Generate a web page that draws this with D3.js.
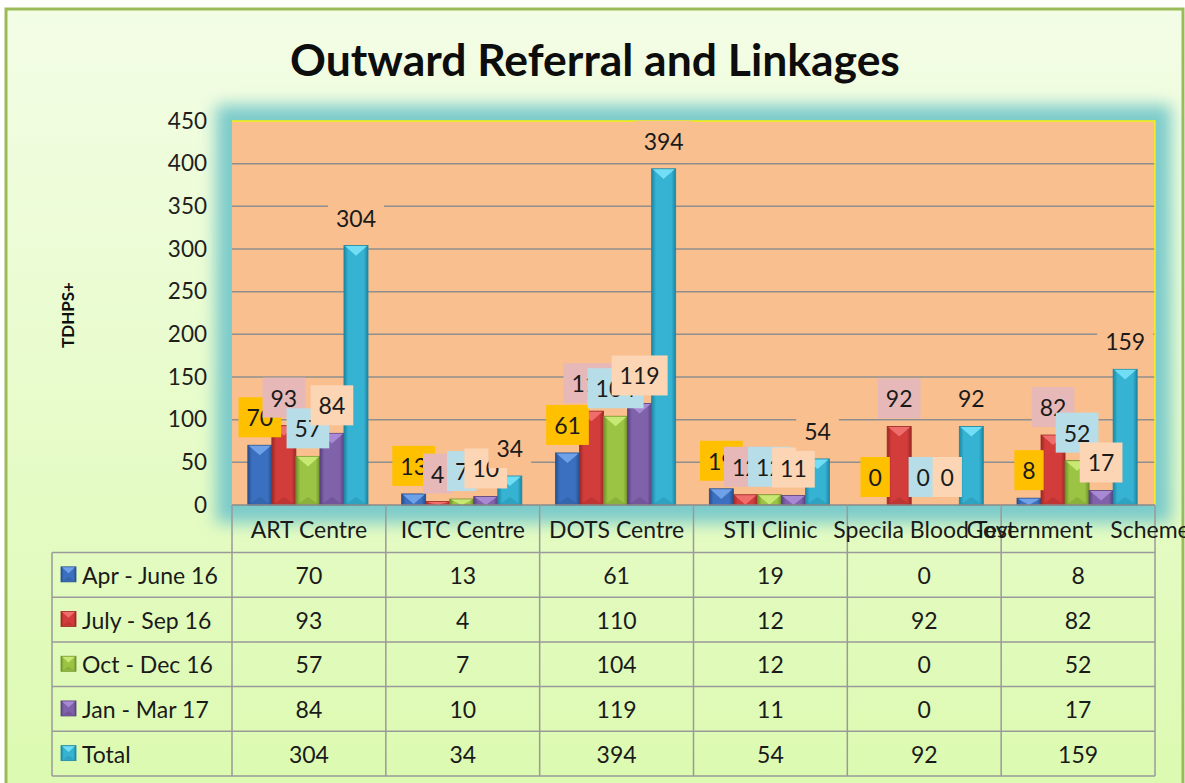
<!DOCTYPE html>
<html>
<head>
<meta charset="utf-8">
<script src="https://cdn.jsdelivr.net/npm/d3@7"></script>
<style>
  body { margin: 0; background: #fff; }
  svg { display: block; font-family: Lato, "Open Sans", sans-serif; }
</style>
</head>
<body>
<div id="chart"></div>
<script>
// chart data
const categories = ['ART Centre', 'ICTC Centre', 'DOTS Centre', 'STI Clinic', 'Specila Blood Test', 'Government   Scheme'];
const seriesNames = ['Apr - June 16', 'July - Sep 16', 'Oct - Dec 16', 'Jan - Mar 17', 'Total'];
const aprJun = [70, 13, 61, 19, 0, 8];
const julSep = [93, 4, 110, 12, 92, 82];
const octDec = [57, 7, 104, 12, 0, 52];
const janMar = [84, 10, 119, 11, 0, 17];
const totals = [304, 34, 394, 54, 92, 159];
const yTicks = [0, 50, 100, 150, 200, 250, 300, 350, 400, 450];
const chartTitle = 'Outward Referral and Linkages';
const yTitle = 'TDHPS+';

const seriesValues = [aprJun, julSep, octDec, janMar, totals];

// frame constants
const WIDTH = 1185;
const HEIGHT = 783;
const PLOT = {left: 232, right: 1155, top: 121, bottom: 505};
const TABLE = {left: 52, headTop: 505, rowTop: 552.5, rowH: 44.7};
const TABLE_FONT = 23;

// bar colours (base, dark edge, light bevel) and label backgrounds
const barColors = [
  {base: '#3b70c0', dark: '#274f8e', light: '#74a6ec'},
  {base: '#d23d3b', dark: '#9c2826', light: '#f27270'},
  {base: '#9cc444', dark: '#6e8f2a', light: '#cdec7a'},
  {base: '#8062aa', dark: '#58407e', light: '#ad8ed8'},
  {base: '#36b2d2', dark: '#1c86a4', light: '#78e2fa'}
];
const PLOT_BG = '#f9bf8f';
const labelFills = ['#ffc000', '#e6b9b8', '#b7dee8', '#fcd5b5', PLOT_BG];

const svg = d3.select('#chart')
  .append('svg')
  .attr('width', WIDTH)
  .attr('height', HEIGHT);

const defs = svg.append('defs');

// page background gradient
const bgGrad = defs.append('linearGradient')
  .attr('id', 'bgGrad').attr('x1', 0).attr('y1', 0).attr('x2', 0).attr('y2', 1);
bgGrad.append('stop').attr('offset', '0%').attr('stop-color', '#f3fde6');
bgGrad.append('stop').attr('offset', '100%').attr('stop-color', '#dcfab0');

// glow filter for plot area
defs.append('filter')
  .attr('id', 'glow')
  .attr('x', '-10%').attr('y', '-20%').attr('width', '120%').attr('height', '140%')
  .append('feGaussianBlur')
  .attr('stdDeviation', 8);

// bar gradients
barColors.forEach((c, i) => {
  const g = defs.append('linearGradient')
    .attr('id', 'barGrad' + i).attr('x1', 0).attr('y1', 0).attr('x2', 1).attr('y2', 0);
  g.append('stop').attr('offset', '0%').attr('stop-color', c.dark);
  g.append('stop').attr('offset', '18%').attr('stop-color', c.base);
  g.append('stop').attr('offset', '82%').attr('stop-color', c.base);
  g.append('stop').attr('offset', '100%').attr('stop-color', c.dark);
});

// outer frame
svg.append('rect')
  .attr('x', 6).attr('y', 9)
  .attr('width', 1177).attr('height', HEIGHT)
  .attr('fill', 'url(#bgGrad)')
  .attr('stroke', '#9bbb59')
  .attr('stroke-width', 3);

// glow behind plot area
svg.append('rect')
  .attr('x', PLOT.left - 16).attr('y', PLOT.top - 16)
  .attr('width', PLOT.right - PLOT.left + 32)
  .attr('height', PLOT.bottom - PLOT.top + 34)
  .attr('fill', '#7ccbcb')
  .attr('filter', 'url(#glow)');

// scales
const y = d3.scaleLinear().domain([0, 450]).range([PLOT.bottom, PLOT.top]);
const x0 = d3.scaleBand().domain(categories).range([PLOT.left, PLOT.right]).padding(0);
const x1 = d3.scaleBand().domain(d3.range(seriesNames.length))
  .range([0, x0.bandwidth()])
  .paddingInner(0).paddingOuter(0.7).align(0.47);

// plot background
svg.append('rect')
  .attr('x', PLOT.left).attr('y', PLOT.top)
  .attr('width', PLOT.right - PLOT.left)
  .attr('height', PLOT.bottom - PLOT.top)
  .attr('fill', PLOT_BG);

// gridlines
svg.append('g')
  .selectAll('line')
  .data(yTicks.filter(t => t > 0 && t < 450))
  .join('line')
  .attr('x1', PLOT.left).attr('x2', PLOT.right)
  .attr('y1', d => y(d)).attr('y2', d => y(d))
  .attr('stroke', '#8f8f8f')
  .attr('stroke-width', 1.5);

// yellow top/right border of plot
svg.append('path')
  .attr('d', `M${PLOT.left},${PLOT.top}H${PLOT.right}V${PLOT.bottom}`)
  .attr('fill', 'none')
  .attr('stroke', '#f2f20a')
  .attr('stroke-width', 1.5);

// y axis
const yAxis = svg.append('g')
  .attr('transform', `translate(${PLOT.left - 25},0)`)
  .call(d3.axisLeft(y).tickValues(yTicks).tickSize(0).tickPadding(0));
yAxis.select('.domain').remove();
yAxis.selectAll('text')
  .attr('font-family', 'Lato, sans-serif')
  .attr('font-size', 22.5)
  .attr('fill', '#1e1e1e');

// y title
svg.append('text')
  .attr('transform', 'translate(74,315) rotate(-90)')
  .attr('text-anchor', 'middle')
  .attr('font-weight', 'bold')
  .attr('font-size', 17)
  .attr('fill', '#111')
  .text(yTitle);

// title, fitted to the original width
const title = svg.append('text')
  .attr('x', 595).attr('y', 76)
  .attr('text-anchor', 'middle')
  .attr('font-weight', 'bold')
  .attr('font-size', 40)
  .attr('fill', '#0d0d0d')
  .text(chartTitle);
const tw = title.node().getComputedTextLength();
title.attr('font-size', 40 * 610 / tw);

// bars with a bevelled top
function drawBar(g, bx, by, bw, bh, i) {
  const c = barColors[i];
  g.append('rect')
    .attr('x', bx).attr('y', by)
    .attr('width', bw).attr('height', Math.max(bh, 0))
    .attr('fill', `url(#barGrad${i})`)
    .attr('stroke', c.dark)
    .attr('stroke-width', 0.8);
  const depth = Math.min(bw * 0.42, bh);
  if (bh > 0) {
    g.append('path')
      .attr('d', `M${bx + 1},${by + 0.5}H${bx + bw - 1}L${bx + bw / 2},${by + depth}Z`)
      .attr('fill', c.light)
      .attr('opacity', 0.9);
    if (bh > depth * 2) {
      g.append('path')
        .attr('d', `M${bx + 2},${by + bh - 1}H${bx + bw - 2}L${bx + bw / 2},${by + bh - depth * 0.8}Z`)
        .attr('fill', c.dark)
        .attr('opacity', 0.35);
    }
  }
}

const barsG = svg.append('g');
categories.forEach((cat, ci) => {
  seriesValues.forEach((vals, si) => {
    const bx = x0(cat) + x1(si);
    const by = y(vals[ci]);
    drawBar(barsG, bx, by, x1.bandwidth(), PLOT.bottom - by, si);
  });
});

// axis line at zero
svg.append('line')
  .attr('x1', PLOT.left).attr('x2', PLOT.right)
  .attr('y1', PLOT.bottom).attr('y2', PLOT.bottom)
  .attr('stroke', '#8a8a8a').attr('stroke-width', 1.5);

// data labels, drawn series by series so later ones overlap earlier ones
const labelsG = svg.append('g');
seriesValues.forEach((vals, si) => {
  vals.forEach((v, ci) => {
    const cx = x0(categories[ci]) + x1(si) + x1.bandwidth() / 2;
    const bottom = y(v) - 8;
    const lg = labelsG.append('g');
    const box = lg.append('rect').attr('fill', labelFills[si]);
    const t = lg.append('text')
      .attr('x', cx).attr('y', bottom - 20)
      .attr('text-anchor', 'middle')
      .attr('dominant-baseline', 'central')
      .attr('font-size', 23)
      .attr('fill', '#1a1a1a')
      .text(v);
    const w = t.node().getComputedTextLength() + 16;
    box.attr('x', cx - w / 2).attr('y', bottom - 40)
      .attr('width', w).attr('height', 40);
  });
});

// data table
const tableG = svg.append('g');
const rowsBottom = TABLE.rowTop + TABLE.rowH * seriesNames.length;
const boundaries = categories.map(c => x0(c)).concat([PLOT.right]);

tableG.selectAll('line.h')
  .data(d3.range(seriesNames.length + 1))
  .join('line')
  .attr('x1', TABLE.left).attr('x2', PLOT.right)
  .attr('y1', d => TABLE.rowTop + d * TABLE.rowH)
  .attr('y2', d => TABLE.rowTop + d * TABLE.rowH)
  .attr('stroke', '#9a9a9a').attr('stroke-width', 1.5);

tableG.append('line')
  .attr('x1', TABLE.left).attr('x2', TABLE.left)
  .attr('y1', TABLE.rowTop).attr('y2', rowsBottom)
  .attr('stroke', '#9a9a9a').attr('stroke-width', 1.5);

tableG.selectAll('line.v')
  .data(boundaries)
  .join('line')
  .attr('x1', d => d).attr('x2', d => d)
  .attr('y1', TABLE.headTop).attr('y2', rowsBottom)
  .attr('stroke', '#9a9a9a').attr('stroke-width', 1.5);

// category headers
tableG.selectAll('text.cat')
  .data(categories)
  .join('text')
  .attr('x', d => x0(d) + x0.bandwidth() / 2)
  .attr('y', 529)
  .attr('text-anchor', 'middle')
  .attr('dominant-baseline', 'central')
  .attr('font-size', TABLE_FONT)
  .attr('fill', '#1a1a1a')
  .style('white-space', 'pre')
  .text(d => d);

// legend rows
seriesNames.forEach((name, si) => {
  const cy = TABLE.rowTop + (si + 0.5) * TABLE.rowH;
  drawBar(tableG, 61, cy - 8, 15, 15, si);
  tableG.append('text')
    .attr('x', 82).attr('y', cy)
    .attr('dominant-baseline', 'central')
    .attr('font-size', TABLE_FONT)
    .attr('fill', '#1a1a1a')
    .text(name);
  seriesValues[si].forEach((v, ci) => {
    tableG.append('text')
      .attr('x', x0(categories[ci]) + x0.bandwidth() / 2)
      .attr('y', cy)
      .attr('text-anchor', 'middle')
      .attr('dominant-baseline', 'central')
      .attr('font-size', TABLE_FONT)
      .attr('fill', '#1a1a1a')
      .text(v);
  });
});
</script>
</body>
</html>
